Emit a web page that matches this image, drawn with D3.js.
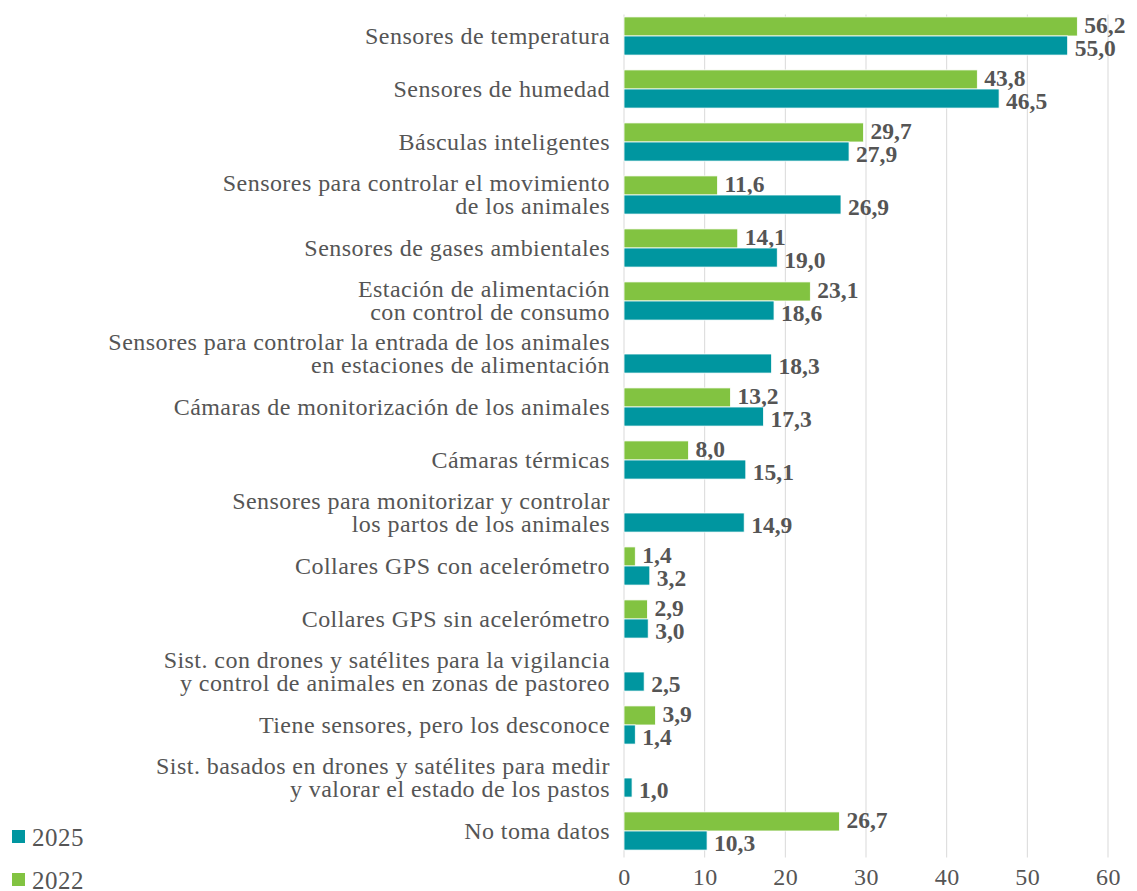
<!DOCTYPE html>
<html lang="es">
<head>
  <meta charset="UTF-8" />
  <title>Sensores</title>
  <script src="https://d3js.org/d3.v7.min.js"></script>
  <style>
    body { margin: 0; background: #fff; }
    svg { display: block; }
    text { font-family: "Liberation Serif", serif; }
    .cat { fill: #555555; font-size: 24px; letter-spacing: 0.45px; }
    .val { fill: #555555; font-size: 23.5px; font-weight: bold; }
    .tick text { fill: #555555; font-size: 24px; letter-spacing: 0.5px; }
    .leg { fill: #555555; font-size: 25px; letter-spacing: 0.5px; }
  </style>
</head>
<body>
  <svg width="1137" height="891"></svg>
  <script>
    // categories (label lines), top to bottom
    const categories = [
      ["Sensores de temperatura"],
      ["Sensores de humedad"],
      ["Básculas inteligentes"],
      ["Sensores para controlar el movimiento", "de los animales"],
      ["Sensores de gases ambientales"],
      ["Estación de alimentación", "con control de consumo"],
      ["Sensores para controlar la entrada de los animales", "en estaciones de alimentación"],
      ["Cámaras de monitorización de los animales"],
      ["Cámaras térmicas"],
      ["Sensores para monitorizar y controlar", "los partos de los animales"],
      ["Collares GPS con acelerómetro"],
      ["Collares GPS sin acelerómetro"],
      ["Sist. con drones y satélites para la vigilancia", "y control de animales en zonas de pastoreo"],
      ["Tiene sensores, pero los desconoce"],
      ["Sist. basados en drones y satélites para medir", "y valorar el estado de los pastos"],
      ["No toma datos"]
    ];
    const values2022 = [56.2, 43.8, 29.7, 11.6, 14.1, 23.1, null, 13.2, 8.0, null, 1.4, 2.9, null, 3.9, null, 26.7];
    const values2025 = [55.0, 46.5, 27.9, 26.9, 19.0, 18.6, 18.3, 17.3, 15.1, 14.9, 3.2, 3.0, 2.5, 1.4, 1.0, 10.3];
    const seriesNames = ["2022", "2025"];
    const colors = { "2022": "#82c341", "2025": "#0096a0" };
    const xTicks = [0, 10, 20, 30, 40, 50, 60];

    const svg = d3.select("svg");
    const plotLeft = 624, plotRight = 1108, plotTop = 9.5, plotBottom = 857.5;

    const x = d3.scaleLinear().domain([0, 60]).range([plotLeft, plotRight]);
    const y = d3.scaleBand().domain(d3.range(categories.length)).range([plotTop, plotBottom]).paddingInner(0.28).paddingOuter(0.14);
    const ySub = d3.scaleBand().domain(seriesNames).range([0, y.bandwidth()]);

    // grid
    svg.append("g").selectAll("line")
      .data(xTicks)
      .join("line")
      .attr("x1", d => x(d)).attr("x2", d => x(d))
      .attr("y1", plotTop + 5).attr("y2", plotBottom)
      .attr("stroke", "#d9d9d9").attr("stroke-width", 1);

    // x axis labels
    const xAxis = svg.append("g")
      .attr("transform", `translate(0,${plotBottom})`)
      .call(d3.axisBottom(x).tickValues(xTicks).tickSize(0).tickPadding(10).tickFormat(d3.format("d")));
    xAxis.select(".domain").remove();
    xAxis.attr("font-family", null).attr("font-size", null);

    const rows = categories.map((c, i) => ({ i, lines: c, v: { "2022": values2022[i], "2025": values2025[i] } }));
    const fmt = v => v.toFixed(1).replace(".", ",");

    const group = svg.append("g").selectAll("g")
      .data(rows)
      .join("g")
      .attr("transform", d => `translate(0,${y(d.i)})`);

    // category labels
    group.append("text")
      .attr("class", "cat")
      .attr("text-anchor", "end")
      .each(function (d) {
        const t = d3.select(this);
        const lh = 23;
        const start = y.bandwidth() / 2 - (d.lines.length - 1) * lh / 2;
        d.lines.forEach((ln, k) => {
          t.append("tspan").attr("x", plotLeft - 14).attr("y", start + k * lh).attr("dy", "0.33em").text(ln);
        });
      });

    const bars = group.selectAll(".bar")
      .data(d => seriesNames.filter(s => d.v[s] != null).map(s => ({ s, v: d.v[s] })))
      .join("g");

    bars.append("rect")
      .attr("x", x(0))
      .attr("y", d => ySub(d.s))
      .attr("width", d => x(d.v) - x(0))
      .attr("height", ySub.bandwidth())
      .attr("fill", d => colors[d.s])
      .attr("stroke", "#ffffff")
      .attr("stroke-width", 0.8);

    bars.append("text")
      .attr("class", "val")
      .attr("x", d => x(d.v) + 7)
      .attr("y", d => ySub(d.s) + ySub.bandwidth() / 2 + (d.s === "2022" ? -1.5 : 3))
      .attr("dy", "0.33em")
      .text(d => fmt(d.v));

    // legend
    const legend = svg.append("g").selectAll("g")
      .data(["2025", "2022"])
      .join("g")
      .attr("transform", (d, i) => `translate(12,${830 + i * 43})`);
    legend.append("rect").attr("width", 13).attr("height", 13).attr("fill", d => colors[d]);
    legend.append("text")
      .attr("class", "leg")
      .attr("x", 20).attr("y", 7).attr("dy", "0.35em")
      .text(d => d);
  </script>
</body>
</html>
